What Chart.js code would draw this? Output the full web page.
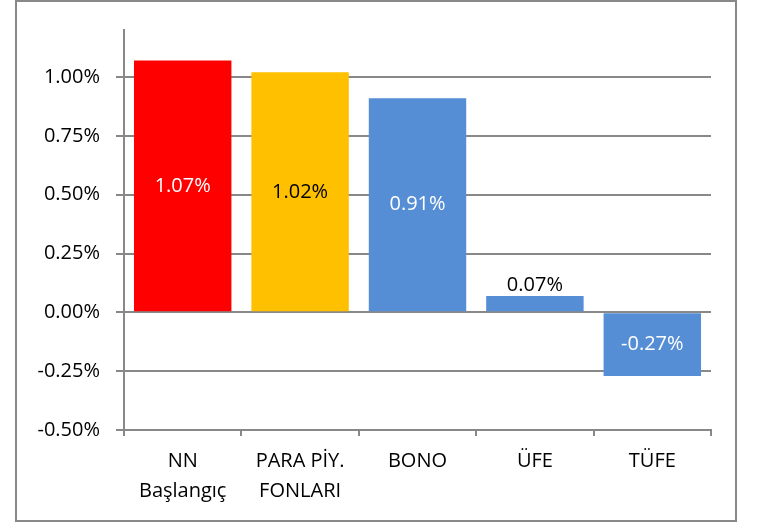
<!DOCTYPE html>
<html lang="tr">
<head>
  <meta charset="UTF-8">
  <title>Getiri karşılaştırması</title>
  <script src="https://cdn.jsdelivr.net/npm/chart.js"></script>
  <style>
    body { margin: 0; background: #fff; }
    .frame { position: absolute; left: 15px; top: 0; width: 722px; height: 522px; border: 2px solid #888; box-sizing: border-box; background: #fff; }
    .frame canvas { display: block; }
  </style>
</head>
<body>

<div class="frame">
  <canvas id="returnsChart" width="718" height="518"></canvas>
</div>

<script>
const categories = [["NN", "Başlangıç"], ["PARA PİY.", "FONLARI"], "BONO", "ÜFE", "TÜFE"];
const returns = [1.07, 1.02, 0.91, 0.07, -0.27];
const yTicks = [-0.5, -0.25, 0, 0.25, 0.5, 0.75, 1.0];

const barColors = ["#ff0000", "#ffc000", "#558ed5", "#558ed5", "#558ed5"];
const labelColors = ["#ffffff", "#000000", "#ffffff", "#000000", "#ffffff"];
const FONT = "'Open Sans', sans-serif";

// value labels: inside the bar, or just above it when the bar is too short
const valueLabels = {
  id: "valueLabels",
  afterDatasetsDraw(chart) {
    const ctx = chart.ctx;
    const meta = chart.getDatasetMeta(0);
    ctx.save();
    ctx.font = "20px " + FONT;
    ctx.textAlign = "center";
    meta.data.forEach((bar, i) => {
      const v = returns[i];
      const h = Math.abs(bar.base - bar.y);
      ctx.fillStyle = labelColors[i];
      if (h < 30) {
        ctx.textBaseline = "bottom";
        ctx.fillText(v.toFixed(2) + "%", bar.x, Math.min(bar.y, bar.base) - 1);
      } else {
        ctx.textBaseline = "middle";
        ctx.fillText(v.toFixed(2) + "%", bar.x, (bar.y + bar.base) / 2);
      }
    });
    ctx.restore();
  }
};

new Chart(document.getElementById("returnsChart"), {
  type: "bar",
  data: {
    labels: categories,
    datasets: [{
      data: returns,
      backgroundColor: barColors,
      borderWidth: 0,
      categoryPercentage: 1,
      barPercentage: 0.83
    }]
  },
  options: {
    responsive: false,
    animation: false,
    layout: { padding: { top: 27, right: 24, left: 0, bottom: 0 } },
    plugins: { legend: { display: false }, tooltip: { enabled: false } },
    scales: {
      x: {
        grid: { offset: true, drawOnChartArea: false, color: "#888", lineWidth: 2, tickLength: 6 },
        border: { color: "#888", width: 2 },
        ticks: { color: "#000", font: { family: FONT, size: 20, lineHeight: 1.5 }, padding: 10, maxRotation: 0, autoSkip: false },
        afterFit(scale) { scale.height = 90; }
      },
      y: {
        min: -0.5,
        max: 1.2,
        grid: { color: "#888", lineWidth: 2, tickLength: 8 },
        border: { color: "#888", width: 2 },
        afterBuildTicks(scale) { scale.ticks = yTicks.map(v => ({ value: v })); },
        ticks: {
          color: "#000",
          font: { family: FONT, size: 20 },
          padding: 16,
          callback: v => v.toFixed(2) + "%"
        },
        afterFit(scale) { scale.width = 107; }
      }
    }
  },
  plugins: [valueLabels]
});
</script>

</body>
</html>
